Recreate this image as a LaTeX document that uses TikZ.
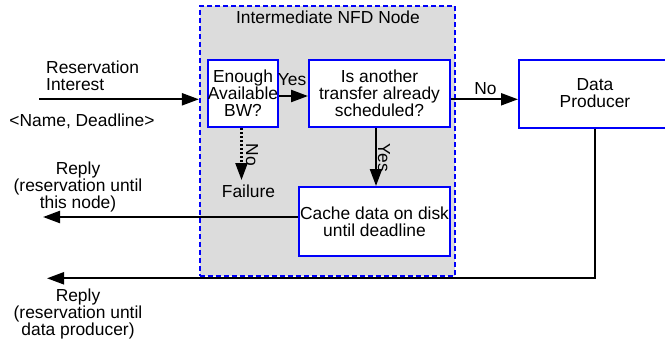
\documentclass[tikz,border=0pt]{standalone}
\usepackage{fontspec}
\setmainfont{Liberation Sans}
\usetikzlibrary{arrows.meta}
\definecolor{nfdgray}{RGB}{220,220,220}
\definecolor{boxblue}{RGB}{0,0,250}
\tikzset{
  stepbox/.style={draw=boxblue, line width=2pt, fill=white, align=center, inner sep=0pt},
  flow/.style={line width=2.2pt, -{Triangle[length=17pt,width=12pt]}},
  lbl/.style={align=center, inner sep=0pt}
}
\begin{document}
\begin{tikzpicture}[x=1pt,y=-1pt, font=\fontsize{17.4}{17}\selectfont]
\useasboundingbox (0,0) rectangle (665,343);
% intermediate node area
\node[draw=boxblue, dash pattern=on 5pt off 3pt, line width=2.2pt, fill=nfdgray,
  minimum width=255pt, minimum height=270pt] (nfd) at (327.5,141) {};
\node[lbl] (nfdtitle) at (328,17) {Intermediate NFD Node};
% boxes
\node[stepbox, minimum width=70pt, minimum height=67pt] (enough) at (243,93.5) {Enough\\Available\\BW?};
\node[stepbox, minimum width=141pt, minimum height=67pt] (another) at (379.5,93.5) {Is another\\transfer already\\scheduled?};
\node[stepbox, minimum width=152pt, minimum height=68pt] (producer) at (595,93.5) {Data\\Producer};
\node[stepbox, minimum width=151pt, minimum height=69pt] (cache) at (374.5,221.5) {Cache data on disk\\until deadline};
% texts
\node[lbl, anchor=west, align=left] (resint) at (46,75.5) {Reservation\\Interest};
\node[lbl] (namedl) at (82,121) {<Name, Deadline>};
\node[lbl] (yes1) at (292,80) {Yes};
\node[lbl] (no1) at (485.5,89) {No};
\node[lbl, rotate=-90] (no2) at (252,155) {No};
\node[lbl, rotate=-90] (yes2) at (384,158) {Yes};
\node[lbl] (failure) at (248.5,191) {Failure};
\node[lbl] (reply1) at (78,187) {Reply\\(reservation until\\this node)};
\node[lbl] (reply2) at (78,314) {Reply\\(reservation until\\data producer)};
% connectors
\coordinate (in1) at (39,99.3);
\coordinate (failtip) at (241.5,180);
\coordinate (out1) at (43,217);
\coordinate (out2) at (47,278.3);
\draw[flow] (in1) -- (in1 -| nfd.west);
\draw[flow] (enough.east |- 0,96) -- (another.west |- 0,96);
\draw[flow] (another.east |- in1) -- (producer.west |- in1);
\draw[flow, dash pattern=on 2pt off 2pt] (enough.south -| failtip) -- (failtip);
\draw[flow] (another.south -| 376,0) -- (cache.north -| 376,0);
\draw[flow] (cache.west |- out1) -- (out1);
\draw[flow] (producer.south) |- (out2);
\end{tikzpicture}
\end{document}
